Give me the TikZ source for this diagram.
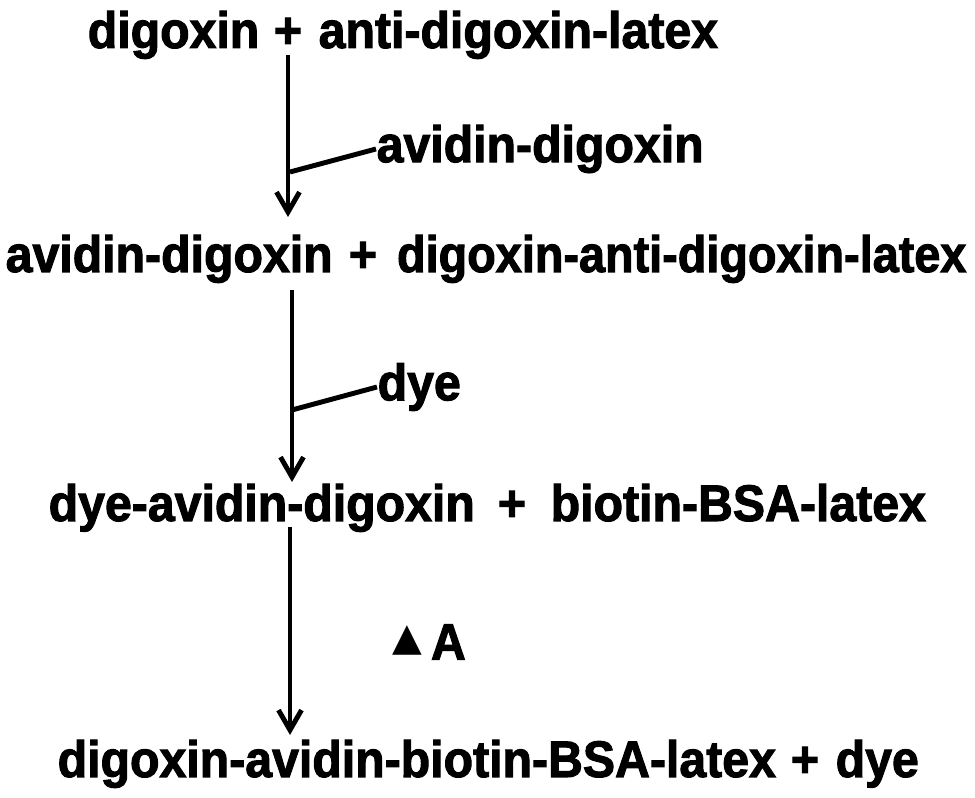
\documentclass[tikz,border=0pt]{standalone}
\usepackage{fontspec}
\setmainfont{Liberation Sans}
\newfontfamily\chemfont[FakeStretch=0.94, BoldFeatures={FakeBold=2}]{Liberation Sans}
\newfontfamily\symfont{DejaVu Sans}
\usetikzlibrary{arrows.meta, positioning, calc}

\begin{document}
\begin{tikzpicture}[
        species/.style={anchor=base west, inner sep=0pt, font=\chemfont\fontsize{14.6}{17}\selectfont\bfseries},
        endspecies/.style={species, anchor=base east},
        plus/.style={species, anchor=base},
        reagent/.style={species, anchor=west},
        arrow/.style={-{Straight Barb[length=2mm, width=2.3mm, line width=1.4pt]}, line width=1.4pt},
        branch/.style={line width=1.4pt}
    ]
        \useasboundingbox (0,0) rectangle (9.75,-7.98);

        % reaction steps
        \node[endspecies] (dig1) at (2.60,-0.48) {digoxin};
        \node[plus] (plus1) at (2.88,-0.48) {+};
        \node[species] (adl1) at (3.18,-0.48) {anti-digoxin-latex};

        \node[species] (avd2) at (0.05,-2.72) {avidin-digoxin};
        \node[plus] (plus2) at (3.63,-2.72) {+};
        \node[endspecies] (dadl2) at (9.67,-2.72) {\scalebox{0.97}[1]{digoxin-anti-digoxin-latex}};

        \node[species] (dad3) at (0.48,-5.21) {dye-avidin-digoxin};
        \node[plus] (plus3) at (5.12,-5.21) {+};
        \node[species] (bbl3) at (5.50,-5.21) {biotin-BSA-latex};

        \node[species] (dabbl4) at (0.57,-7.77) {digoxin-avidin-biotin-BSA-latex};
        \node[plus] (plus4) at (8.05,-7.77) {+};
        \node[species] (dye4) at (8.35,-7.77) {dye};

        % reagents
        \node[reagent] (avdig) at (3.76,-1.49) {avidin-digoxin};
        \node[reagent] (dye) at (3.77,-3.87) {dye};
        \node[reagent] (heat) at (3.92,-6.42) {\raisebox{0.35ex}{\symfont\fontsize{11}{11}\selectfont ▲}\,A};

        % arrows
        \coordinate (a1) at (2.88,-0.55);
        \coordinate (b1) at (2.88,-2.17);
        \coordinate (j1) at (2.90,-1.72);
        \coordinate (a2) at (2.92,-2.90);
        \coordinate (b2) at (2.92,-4.82);
        \coordinate (j2) at (2.92,-4.10);
        \coordinate (a3) at (2.90,-5.27);
        \coordinate (b3) at (2.90,-7.35);

        \draw[arrow] (a1) -- (b1);
        \draw[branch] (j1) -- (avdig.west);
        \draw[arrow] (a2) -- (b2);
        \draw[branch] (j2) -- (dye.west);
        \draw[arrow] (a3) -- (b3);
\end{tikzpicture}
\end{document}
